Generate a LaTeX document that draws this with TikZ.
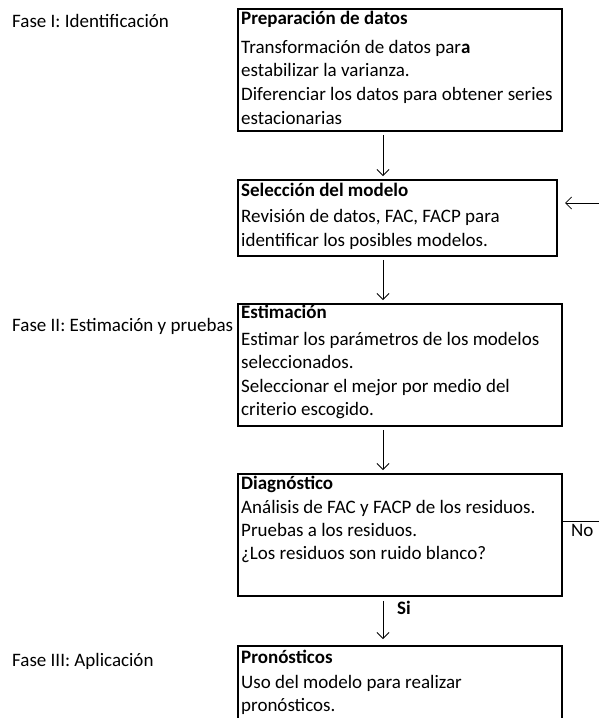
\documentclass[tikz,border=0pt]{standalone}
\usepackage{fontspec}
\setmainfont{Carlito}
\usetikzlibrary{arrows.meta,calc}
\begin{document}
\begin{tikzpicture}[x=1pt,y=-1pt,
  box/.style={draw=black, line width=1.8pt, rectangle, inner sep=0pt, anchor=north west},
  ln/.style={anchor=base west, inner sep=0pt, font=\fontsize{19}{22}\selectfont},
  ttl/.style={ln, font=\fontsize{19}{22}\selectfont\bfseries},
  conn/.style={line width=0.8pt, -{Straight Barb[length=6pt,width=12pt]}},
]
\useasboundingbox (0,0) rectangle (599,718);
% boxes
\node[box, minimum width=324pt, minimum height=122pt] (b1) at (237,8) {};
\node[box, minimum width=319pt, minimum height=76pt] (b2) at (237,179) {};
\node[box, minimum width=324pt, minimum height=122pt] (b3) at (237,303) {};
\node[box, minimum width=324pt, minimum height=122pt] (b4) at (237,473) {};
\node[box, minimum width=324pt, minimum height=100pt] (b5) at (237,645) {};
% phase labels
\node[ln] (f1) at (12,27) {Fase I: Identificación};
\node[ln] (f2) at (12,331) {Fase II: Estimación y pruebas};
\node[ln] (f3) at (12,666) {Fase III: Aplicación};
% box 1 text
\node[ttl] (t10) at (241,24) {Preparación de datos};
\node[ln] (t11) at (241,53) {Transformación de datos par\textbf{a}};
\node[ln] (t12) at (241,76) {estabilizar la varianza.};
\node[ln] (t13) at (241,100) {Diferenciar los datos para obtener series};
\node[ln] (t14) at (241,124) {estacionarias};
% box 2 text
\node[ttl] (t20) at (241,196) {Selección del modelo};
\node[ln] (t21) at (241,222) {Revisión de datos, FAC, FACP para};
\node[ln] (t22) at (241,246) {identificar los posibles modelos.};
% box 3 text
\node[ttl] (t30) at (241,318) {Estimación};
\node[ln] (t31) at (241,345) {Estimar los parámetros de los modelos};
\node[ln] (t32) at (241,368) {seleccionados.};
\node[ln] (t33) at (241,392) {Seleccionar el mejor por medio del};
\node[ln] (t34) at (241,415) {criterio escogido.};
% box 4 text
\node[ttl] (t40) at (241,489) {Diagnóstico};
\node[ln] (t41) at (241,513) {Análisis de FAC y FACP de los residuos.};
\node[ln] (t42) at (241,536) {Pruebas a los residuos.};
\node[ln] (t43) at (241,559) {¿Los residuos son ruido blanco?};
% box 5 text
\node[ttl] (t50) at (241,663) {Pronósticos};
\node[ln] (t51) at (241,688) {Uso del modelo para realizar};
\node[ln] (t52) at (241,711) {pronósticos.};
% labels on connectors
\node[ln] (no) at (571,536) {No};
\node[ttl] (si) at (397,614) {Si};
% connectors
\coordinate (ax) at (383,0);
\draw[conn, shorten <=3pt, shorten >=3pt] (b1.south -| ax) -- (b2.north -| ax);
\draw[conn, shorten <=3pt, shorten >=3pt] (b2.south -| ax) -- (b3.north -| ax);
\draw[conn, shorten <=3pt, shorten >=3pt] (b3.south -| ax) -- (b4.north -| ax);
\draw[conn, shorten <=4pt, shorten >=6pt] (b4.south -| ax) -- (b5.north -| ax);
% feedback loop (vertical part lies outside the visible frame)
\coordinate (fbout) at (561,521);
\coordinate (fbin) at (556,203);
\coordinate (fbx) at (620,0);
\draw[conn, shorten >=9pt] (fbout) -- (fbout -| fbx) -- (fbin -| fbx) -- (fbin);
\end{tikzpicture}
\end{document}
